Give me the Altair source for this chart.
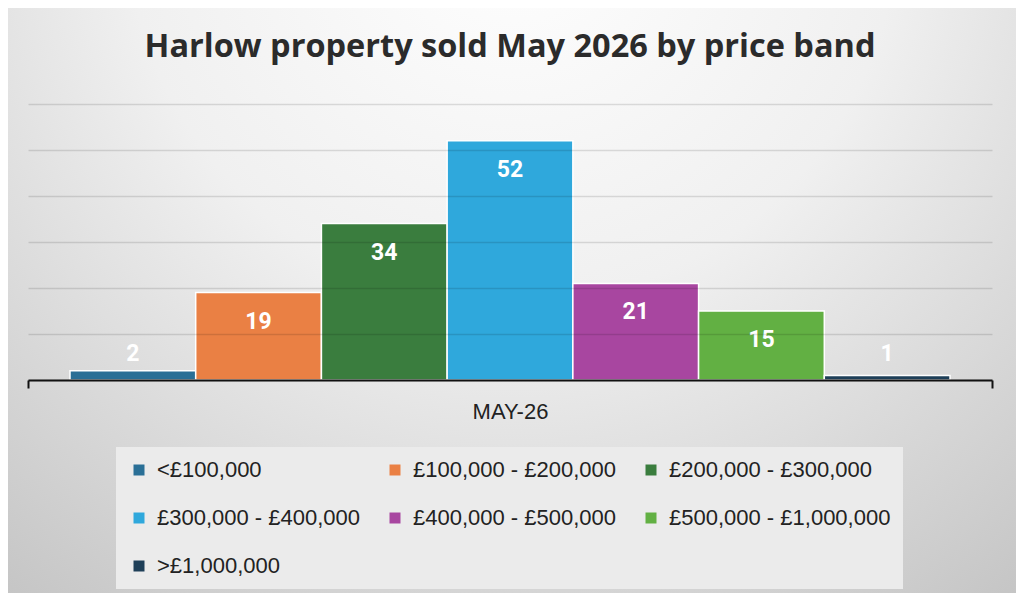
import altair as alt
import pandas as pd

months = ["MAY-26"] * 7
bands = ["<£100,000", "£100,000 - £200,000", "£200,000 - £300,000",
         "£300,000 - £400,000", "£400,000 - £500,000", "£500,000 - £1,000,000",
         ">£1,000,000"]
counts = [2, 19, 34, 52, 21, 15, 1]
colors = ["#2a6f96", "#ea8044", "#3a7d3e", "#2fa8dc", "#a846a0", "#62b043", "#1e3f58"]
grid_values = [0, 10, 20, 30, 40, 50, 60]

df = pd.DataFrame({"month": months, "band": bands, "count": counts})

W, H = 964, 276

bg = alt.Chart(pd.DataFrame({"a": [0]})).mark_rect(
    fill=alt.Gradient(
        gradient="radial",
        stops=[alt.GradientStop(color="#ffffff", offset=0),
               alt.GradientStop(color="#f0f0f0", offset=0.45),
               alt.GradientStop(color="#c4c4c4", offset=1)],
        x1=0.5, y1=0.12, x2=0.5, y2=0.12, r1=0, r2=0.85,
    )
).encode(x=alt.value(-20), x2=alt.value(988), y=alt.value(-96), y2=alt.value(489))

base = alt.Chart(df)

x_enc = alt.X("month:N", title=None,
              scale=alt.Scale(paddingInner=0, paddingOuter=0),
              axis=alt.Axis(labelAngle=0, labelFontSize=22, labelFont="Liberation Sans",
                            labelColor="#222222", labelPadding=13,
                            domainColor="#111111", domainWidth=2,
                            tickColor="#111111", tickWidth=2, tickSize=8,
                            tickBand="extent", zindex=2))
xo_enc = alt.XOffset("band:N", sort=bands,
                     scale=alt.Scale(paddingInner=0, paddingOuter=0.334))
y_enc = alt.Y("count:Q", title=None,
              scale=alt.Scale(domain=[0, 60], nice=False),
              axis=alt.Axis(values=grid_values, grid=True, labels=False, ticks=False,
                            domain=False, gridColor="#000000", gridOpacity=0.12,
                            gridWidth=1.5, zindex=1))

bars = base.mark_bar(stroke="white", strokeWidth=1.5).encode(
    x=x_enc,
    xOffset=xo_enc,
    y=y_enc,
    color=alt.Color("band:N", sort=bands,
                    scale=alt.Scale(domain=bands, range=colors),
                    legend=alt.Legend(title=None, orient="none", legendX=88, legendY=343,
                                      direction="horizontal",
                                      columns=3, columnPadding=23, rowPadding=26,
                                      symbolType="square", symbolSize=121,
                                      symbolStrokeWidth=0, labelOffset=7,
                                      labelFontSize=22, labelFont="Liberation Sans",
                                      labelColor="#222222", fillColor="#ebebeb",
                                      padding=12, labelLimit=400)),
)

labels = base.transform_calculate(
    ly="max(datum.count, 12)"
).mark_text(color="white", fontWeight="bold", fontSize=23, font="Roboto",
            baseline="middle", dy=29).encode(
    x=alt.X("month:N"),
    xOffset=alt.XOffset("band:N", sort=bands),
    y=alt.Y("ly:Q"),
    text=alt.Text("count:Q"),
)

chart = alt.layer(bg, bars, labels).properties(
    width=W, height=H,
    padding=0,
    title=alt.Title("Harlow property sold May 2026 by price band",
                    font="Open Sans", fontSize=32.5, fontWeight="bold", color="#2b2b2b",
                    anchor="middle", offset=-55),
).configure_view(stroke=None).configure(background="#d4d4d4")

chart.save("out.html", embed_options={"renderer": "svg", "actions": False})
